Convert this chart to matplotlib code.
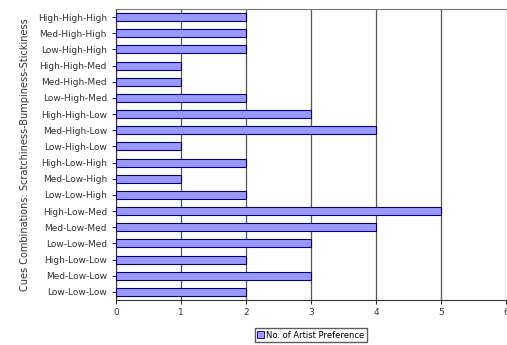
import matplotlib.pyplot as plt
from matplotlib.patches import Patch

# cue combinations (Scratchiness-Bumpiness-Stickiness), listed top to bottom
combos = ["High-High-High", "Med-High-High", "Low-High-High", "High-High-Med",
          "Med-High-Med", "Low-High-Med", "High-High-Low", "Med-High-Low",
          "Low-High-Low", "High-Low-High", "Med-Low-High", "Low-Low-High",
          "High-Low-Med", "Med-Low-Med", "Low-Low-Med", "High-Low-Low",
          "Med-Low-Low", "Low-Low-Low"]
prefs = [2, 2, 2, 1, 1, 2, 3, 4, 1, 2, 1, 2, 5, 4, 3, 2, 3, 2]
xticks = [0, 1, 2, 3, 4, 5, 6]

fig = plt.figure(figsize=(5.07, 3.45), dpi=100)
ax = fig.add_axes([116/507, 45/345, 390/507, 291/345])

pos = list(range(len(combos)))[::-1]
ax.barh(pos, prefs, height=0.5, color="#9999ff", edgecolor="#000080", linewidth=0.8, zorder=3)

ax.set_xlim(0, 6)
ax.set_ylim(-0.5, len(combos) - 0.5)
ax.set_xticks(xticks)
ax.set_xticklabels([str(t) for t in xticks], fontsize=6.5, color="#333333")
ax.set_yticks(pos)
ax.set_yticklabels(combos, fontsize=6.5, color="#333333")
ax.tick_params(axis="y", length=3, width=0.6)
ax.tick_params(axis="x", length=3, width=0.6, pad=3)
ax.xaxis.grid(True, color="#555555", linewidth=0.9, zorder=0)

ax.spines["top"].set_color("#777777")
ax.spines["right"].set_visible(False)
ax.spines["left"].set_color("#333333")
ax.spines["bottom"].set_color("#333333")

ax.set_ylabel("Cues Combinations: Scratchiness-Bumpiness-Stickiness",
              fontsize=7, color="#333333", labelpad=6)

handle = Patch(facecolor="#9999ff", edgecolor="#000080", linewidth=0.6)
fig.legend([handle], ["No. of Artist Preference"], loc="center",
           bbox_to_anchor=(311/507, 1 - 335/345), fontsize=6, frameon=True,
           fancybox=False, edgecolor="#333333", handlelength=0.8, handleheight=0.8,
           borderpad=0.3, handletextpad=0.3)

fig.savefig("out.png", dpi=100)
